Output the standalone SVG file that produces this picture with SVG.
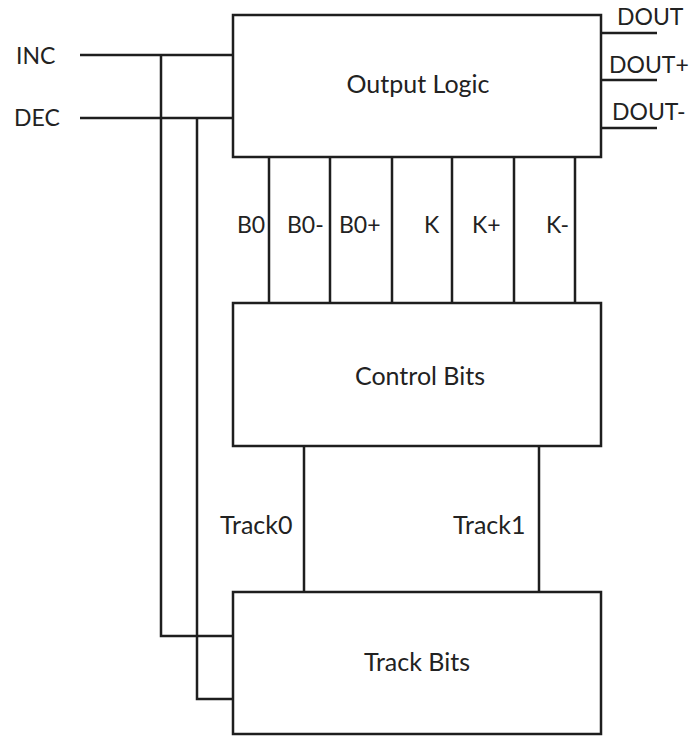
<svg xmlns="http://www.w3.org/2000/svg" width="690" height="736" viewBox="0 0 690 736">
<style>
.box{fill:#fff;stroke:#1e1e1e;stroke-width:2.5}
.w{fill:none;stroke:#1e1e1e;stroke-width:2.5;stroke-linejoin:miter;stroke-linecap:butt}
text{font-family:Lato,"Liberation Sans",sans-serif;font-size:23px;fill:#222}
.m{font-size:25px}
.c{text-anchor:middle}
</style>
<rect width="690" height="736" fill="#fff"/>
<g id="connectors">
<path class="w" d="M80 55H233M80 118H233"/>
<path class="w" d="M161 55V636H233M197 118V699H233"/>
<path class="w" d="M601 33H657M601 80H657M601 128H657"/>
<path class="w" d="M269 157V303M330 157V303M392 157V303M452 157V303M514 157V303M575 157V303"/>
<path class="w" d="M304 446V592M539 446V592"/>
</g>
<g id="labels">
<text x="16" y="64">INC</text>
<text x="14" y="126">DEC</text>
<text x="617" y="25">DOUT</text>
<text x="609" y="73">DOUT+</text>
<text x="612" y="120">DOUT-</text>
<text x="237" y="233">B0</text>
<text x="287" y="233">B0-</text>
<text x="339" y="233">B0+</text>
<text x="424" y="233">K</text>
<text x="472" y="233">K+</text>
<text x="546" y="233">K-</text>
<text class="m" x="220" y="534">Track0</text>
<text class="m" x="453" y="534">Track1</text>
</g>
<g id="output-logic">
<rect class="box" x="233" y="15" width="368" height="142"/>
<text class="c m" x="418" y="93">Output Logic</text>
</g>
<g id="control-bits">
<rect class="box" x="233" y="303" width="368" height="143"/>
<text class="c m" x="420" y="385">Control Bits</text>
</g>
<g id="track-bits">
<rect class="box" x="233" y="592" width="368" height="142"/>
<text class="c m" x="417" y="671">Track Bits</text>
</g>
</svg>
